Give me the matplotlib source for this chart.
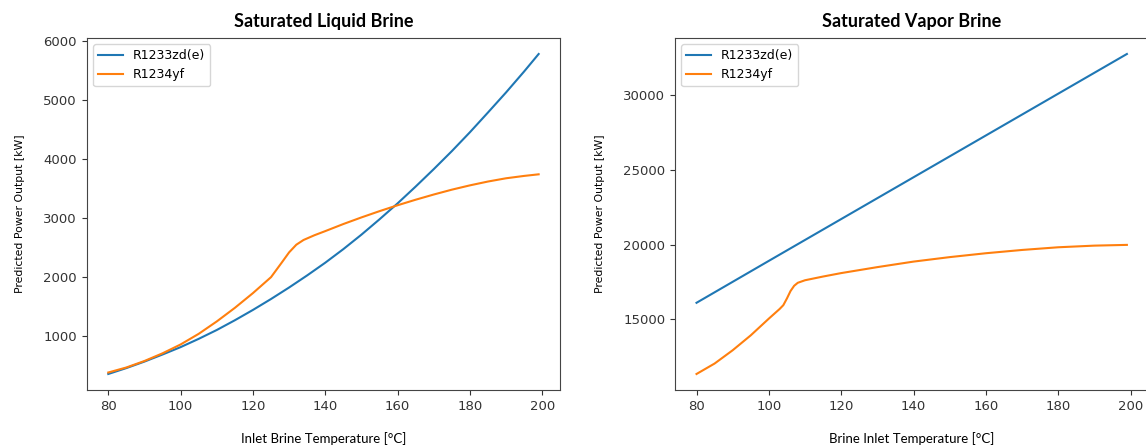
import matplotlib
matplotlib.use("Agg")
import matplotlib.pyplot as plt

# Saturated liquid brine
liq_temp_zd = [80, 85, 90, 95, 100, 105, 110, 115, 120, 125, 130, 135, 140,
               145, 150, 155, 160, 165, 170, 175, 180, 185, 190, 195, 199]
liq_power_zd = [360, 460, 570, 690, 815, 955, 1105, 1270, 1445, 1630, 1825,
                2030, 2245, 2475, 2720, 2980, 3250, 3535, 3830, 4135, 4455,
                4790, 5130, 5485, 5780]

liq_temp_yf = [80, 85, 90, 95, 100, 105, 110, 115, 120, 125, 128, 130, 132,
               134, 137, 140, 145, 150, 155, 160, 165, 170, 175, 180, 185,
               190, 195, 199]
liq_power_yf = [385, 470, 580, 710, 860, 1040, 1250, 1480, 1730, 2000, 2250,
                2420, 2550, 2630, 2710, 2780, 2900, 3012, 3118, 3218, 3312,
                3400, 3482, 3555, 3620, 3675, 3715, 3742]

# Saturated vapor brine
vap_temp_zd = [80, 100, 120, 140, 160, 180, 199]
vap_power_zd = [16110, 18920, 21720, 24520, 27320, 30120, 32780]

vap_temp_yf = [80, 85, 90, 95, 100, 103, 104, 105, 106, 107, 108, 110, 115,
               120, 130, 140, 150, 160, 170, 180, 190, 199]
vap_power_yf = [11340, 12040, 12930, 13930, 15050, 15700, 15950, 16400,
                16900, 17250, 17450, 17620, 17870, 18100, 18500, 18870,
                19170, 19430, 19650, 19830, 19940, 19990]

labels = ["R1233zd(e)", "R1234yf"]


def draw(ax, t1, p1, t2, p2, title, xlabel):
    ax.plot(t1, p1, color="#1f77b4", lw=1.5, label=labels[0])
    ax.plot(t2, p2, color="#ff7f0e", lw=1.5, label=labels[1])
    ax.set_title(title, family="Lato", fontweight="bold", fontsize=13, pad=8)
    ax.set_xlabel(xlabel, family="Lato", fontsize=9.5, labelpad=14)
    ax.set_ylabel("Predicted Power Output [kW]", fontsize=7.8, labelpad=13)
    ax.set_xticks(range(80, 201, 20))
    ax.tick_params(labelsize=9.5, colors="#333333")
    for s in ax.spines.values():
        s.set_color("#444444")
    ax.legend(loc="upper left", fontsize=9)


def main():
    fig = plt.figure(figsize=(11.46, 4.46), dpi=100)
    ax1 = fig.add_axes([0.0757, 0.1256, 0.4131, 0.7892])
    ax2 = fig.add_axes([0.589, 0.1256, 0.4131, 0.7892])

    draw(ax1, liq_temp_zd, liq_power_zd, liq_temp_yf, liq_power_yf,
         "Saturated Liquid Brine", "Inlet Brine Temperature [°C]")
    draw(ax2, vap_temp_zd, vap_power_zd, vap_temp_yf, vap_power_yf,
         "Saturated Vapor Brine", "Brine Inlet Temperature [°C]")
    ax2.set_yticks([15000, 20000, 25000, 30000])

    fig.savefig("out.png", dpi=100)


if __name__ == "__main__":
    main()
